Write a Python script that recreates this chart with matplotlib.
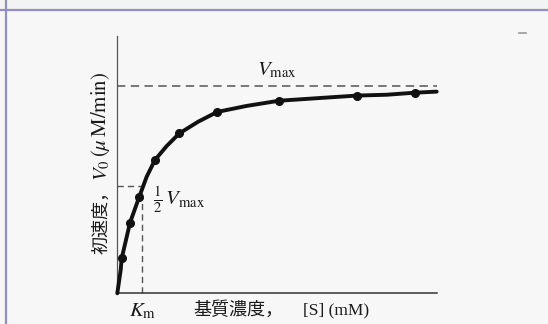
import matplotlib
matplotlib.use('Agg')
import matplotlib.pyplot as plt
from matplotlib.lines import Line2D
from matplotlib.patches import Rectangle

plt.rcParams['mathtext.fontset'] = 'stix'

# ---- data (arbitrary units, Vmax = 100) ----
s_points = [0.44, 1.27, 2.20, 3.77, 6.20, 10.00, 16.17, 23.97, 29.77]
v_points = [16.9, 34.1, 46.7, 64.5, 77.3, 87.7, 93.1, 95.6, 97.0]
s_curve = [0, 0.34, 0.44, 0.87, 1.27, 2.20, 2.94, 3.77, 4.94, 6.20, 8.10,
           10.00, 12.94, 16.17, 20.2, 23.97, 26.94, 29.77, 31.94]
v_curve = [0, 11.3, 16.9, 25.8, 34.1, 46.7, 56.4, 64.5, 71.2, 77.3, 83.0,
           87.7, 90.6, 93.1, 94.4, 95.6, 96.0, 97.0, 97.5]
vmax = 100
half_level = 52
km = 2.44
s_max = 31.97
v_top = 124.4

W, H = 548, 324
fig = plt.figure(figsize=(W / 100, H / 100), dpi=100)
fig.patch.set_facecolor('#f7f7f7')

def fx(px):
    return px / W

def fy(py):
    return 1 - py / H

# frame of the scanned page
fig.add_artist(Rectangle((0, fy(9.5)), 1, 9.5 / H, transform=fig.transFigure,
                         facecolor='#f3f3f3', edgecolor='none', zorder=0))
fig.add_artist(Line2D([0, 1], [fy(10), fy(10)], transform=fig.transFigure,
                      color='#8f8fc2', lw=1.6))
fig.add_artist(Line2D([fx(6.3), fx(6.3)], [0, 1], transform=fig.transFigure,
                      color='#8f8fc2', lw=1.6))
fig.add_artist(Line2D([fx(519), fx(526)], [fy(33), fy(33)], transform=fig.transFigure,
                      color='#999999', lw=1.2))

ax = fig.add_axes([fx(117.3), fy(293.3), fx(437) - fx(117.3), fy(36) - fy(293.3)])
ax.set_facecolor('none')
ax.set_xlim(0, s_max)
ax.set_ylim(0, v_top)
for side in ('top', 'right'):
    ax.spines[side].set_visible(False)
ax.spines['left'].set_color('#555555')
ax.spines['left'].set_linewidth(0.9)
ax.spines['bottom'].set_color('#333333')
ax.spines['bottom'].set_linewidth(1.1)
ax.set_xticks([])
ax.set_yticks([])

# dashed guides
ax.plot([0, s_max], [vmax, vmax], color='#555555', lw=1.1,
        ls=(0, (5.5, 3.5)), clip_on=False)
ax.plot([0, km], [half_level, half_level], color='#555555', lw=1.0,
        ls=(0, (4.5, 3)), clip_on=False)
ax.plot([km, km], [0, half_level], color='#555555', lw=1.0,
        ls=(0, (4.5, 3)), clip_on=False)

# curve and points
ax.plot(s_curve, v_curve, color='#111111', lw=2.8, solid_capstyle='round',
        solid_joinstyle='round', clip_on=False, zorder=3)
ax.plot(s_points, v_points, 'o', ms=5.5, color='#111111', clip_on=False, zorder=4)

tc = '#1a1a1a'
ax.text(15.97, 108, r'$V_{\mathrm{max}}$', fontsize=15, ha='center', va='center', color=tc)
ax.text(3.57, 45.1, r'$\frac{1}{2}\,V_{\mathrm{max}}$', fontsize=15, ha='left',
        va='center', color=tc)
ax.text(2.57, -3.5, r'$K_{\mathrm{m}}$', fontsize=15, ha='center', va='top',
        color=tc, clip_on=False)

# x label
fig.text(fx(193), fy(310), '基質濃度，', family=['Noto Sans CJK JP', 'DejaVu Sans'],
         fontsize=13, ha='left', va='center', color=tc)
fig.text(fx(303), fy(310), '[S] (mM)', family=['Liberation Serif', 'DejaVu Serif'],
         fontsize=12.5, ha='left', va='center', color=tc)

# y label (rotated)
fig.text(fx(101), fy(254), '初速度，', family=['Noto Sans CJK JP', 'DejaVu Sans'],
         fontsize=13, rotation=90, ha='center', va='bottom', color=tc)
fig.text(fx(102), fy(181), r'$V_0$', fontsize=15, rotation=90, ha='center',
         va='bottom', color=tc)
fig.text(fx(101), fy(157), r'$(\mu\,\mathrm{M/min})$', fontsize=15, rotation=90,
         ha='center', va='bottom', color=tc)

fig.savefig('out.png', dpi=100, facecolor=fig.get_facecolor())
